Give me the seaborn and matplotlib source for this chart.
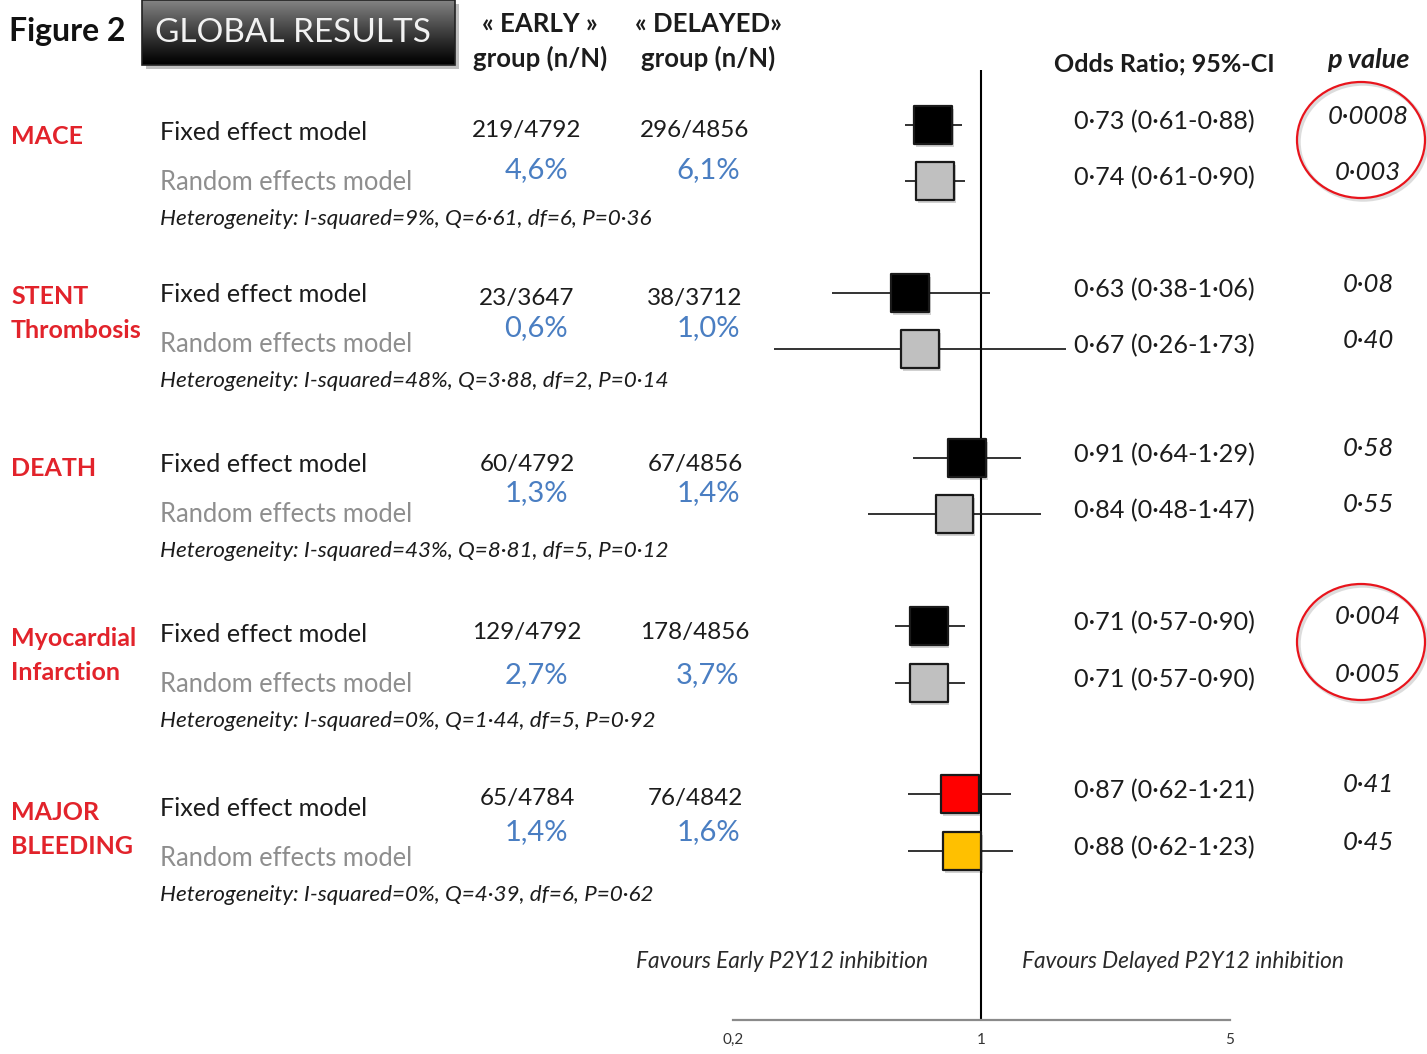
import numpy as np
import pandas as pd
import matplotlib
matplotlib.use("Agg")
import matplotlib.pyplot as plt
from matplotlib.patches import Ellipse, Rectangle
import seaborn as sns

# ---------------- data ----------------
outcome_lines = [["MACE"], ["STENT", "Thrombosis"], ["DEATH"],
                 ["Myocardial", "Infarction"], ["MAJOR", "BLEEDING"]]
early_counts = ["219/4792", "23/3647", "60/4792", "129/4792", "65/4784"]
delayed_counts = ["296/4856", "38/3712", "67/4856", "178/4856", "76/4842"]
early_pct = ["4,6%", "0,6%", "1,3%", "2,7%", "1,4%"]
delayed_pct = ["6,1%", "1,0%", "1,4%", "3,7%", "1,6%"]
heterogeneity = [
    "I-squared=9%, Q=6·61, df=6, P=0·36",
    "I-squared=48%, Q=3·88, df=2, P=0·14",
    "I-squared=43%, Q=8·81, df=5, P=0·12",
    "I-squared=0%, Q=1·44, df=5, P=0·92",
    "I-squared=0%, Q=4·39, df=6, P=0·62",
]
fixed_or = [0.73, 0.63, 0.91, 0.71, 0.87]
fixed_lo = [0.61, 0.38, 0.64, 0.57, 0.62]
fixed_hi = [0.88, 1.06, 1.29, 0.90, 1.21]
random_or = [0.74, 0.67, 0.84, 0.71, 0.88]
random_lo = [0.61, 0.26, 0.48, 0.57, 0.62]
random_hi = [0.90, 1.73, 1.47, 0.90, 1.23]
fixed_p = ["0·0008", "0·08", "0·58", "0·004", "0·41"]
random_p = ["0·003", "0·40", "0·55", "0·005", "0·45"]
x_ticks = [0.2, 1, 5]
x_tick_labels = ["0,2", "1", "5"]

# ---------------- layout (pixel rows) ----------------
W, H = 1427, 1054
fixed_row = [125, 293, 458, 626, 794]
random_row = [181, 349, 514, 683, 851]
label_y = [136, 297, 468, 638, 812]
model_y = [132, 294, 464, 634, 808]
count_y = [130, 298, 464, 632, 798]
pct_y = [170, 328, 493, 675, 832]

sns.set_theme(style="white")
plt.rcParams["font.family"] = ["Lato", "DejaVu Sans"]

fig = plt.figure(figsize=(W / 100, H / 100), dpi=100)
bg = fig.add_axes([0, 0, 1, 1])
bg.set_xlim(0, W)
bg.set_ylim(H, 0)
bg.axis("off")

DARK = "#1c1c1c"
GREY_TXT = "#8e8e8e"
BLUE = "#4a7ec2"
RED = "#e2232b"

# title block
bg.text(9, 31, "Figure 2", fontsize=23, fontweight="bold", color="#111111",
        va="center", ha="left")
grad = np.linspace(0.55, 0.0, 256).reshape(-1, 1) ** 1.1
bg.add_patch(Rectangle((146, 4), 313, 65, facecolor="#000000", alpha=0.25,
                       edgecolor="none", zorder=1))
bg.imshow(grad, cmap="gray", vmin=0, vmax=1, extent=[142, 455, 65, 0],
          aspect="auto", zorder=2)
bg.add_patch(Rectangle((142, 0), 313, 65, facecolor="none",
                       edgecolor="#222222", lw=1.2, zorder=3))
bg.text(293, 33, "GLOBAL RESULTS", fontsize=24, color="#f2f2f2",
        va="center", ha="center", zorder=4)

# column headers
HDR = 18.5
bg.text(540, 24, "« EARLY »", fontsize=HDR, fontweight="bold", color=DARK,
        ha="center", va="center")
bg.text(540, 58, "group (n/N)", fontsize=HDR, fontweight="bold", color=DARK,
        ha="center", va="center")
bg.text(708, 24, "« DELAYED»", fontsize=HDR, fontweight="bold", color=DARK,
        ha="center", va="center")
bg.text(708, 58, "group (n/N)", fontsize=HDR, fontweight="bold", color=DARK,
        ha="center", va="center")
bg.text(1164, 64, "Odds Ratio; 95%-CI", fontsize=18, fontweight="bold",
        color=DARK, ha="center", va="center")
bg.text(1368, 60, "p value", fontsize=19.5, fontweight="bold", style="italic",
        color=DARK, ha="center", va="center")

for i in range(5):
    for k, line in enumerate(outcome_lines[i]):
        bg.text(11, label_y[i] + 34 * k, line, fontsize=18, fontweight="bold",
                color=RED, ha="left", va="center")
    bg.text(160, model_y[i], "Fixed effect model", fontsize=18.2, color=DARK,
            ha="left", va="center")
    bg.text(160, model_y[i] + 50, "Random effects model", fontsize=18.4,
            color=GREY_TXT, ha="left", va="center")
    bg.text(160, model_y[i] + 87, "Heterogeneity: " + heterogeneity[i],
            fontsize=16.2, style="italic", color=DARK, ha="left", va="center")
    bg.text(527, count_y[i], early_counts[i], fontsize=17.5, color=DARK,
            ha="center", va="center")
    bg.text(695, count_y[i], delayed_counts[i], fontsize=17.5, color=DARK,
            ha="center", va="center")
    bg.text(536, pct_y[i], early_pct[i], fontsize=21, color=BLUE,
            ha="center", va="center")
    bg.text(708, pct_y[i], delayed_pct[i], fontsize=21, color=BLUE,
            ha="center", va="center")
    ci_f = f"{fixed_or[i]:.2f} ({fixed_lo[i]:.2f}-{fixed_hi[i]:.2f})".replace(".", "·")
    ci_r = f"{random_or[i]:.2f} ({random_lo[i]:.2f}-{random_hi[i]:.2f})".replace(".", "·")
    bg.text(1164, fixed_row[i] - 3, ci_f, fontsize=18.2, color=DARK,
            ha="center", va="center")
    bg.text(1164, random_row[i] - 3, ci_r, fontsize=18.2, color=DARK,
            ha="center", va="center")
    bg.text(1368, fixed_row[i] - 9, fixed_p[i], fontsize=18.5, style="italic",
            color=DARK, ha="center", va="center")
    bg.text(1368, random_row[i] - 9, random_p[i], fontsize=18.5, style="italic",
            color=DARK, ha="center", va="center")

# highlighted p values
for cy in (140, 642):
    bg.add_patch(Ellipse((1363, cy + 2), 128, 116, facecolor="none",
                         edgecolor="#bbbbbb", lw=2.5, alpha=0.5))
    bg.add_patch(Ellipse((1361, cy), 128, 116, facecolor="none",
                         edgecolor="#e8141c", lw=1.6))

bg.text(782, 961, "Favours Early P2Y12 inhibition", fontsize=16.3,
        style="italic", color="#2a2a2a", ha="center", va="center")
bg.text(1183, 961, "Favours Delayed P2Y12 inhibition", fontsize=16.3,
        style="italic", color="#2a2a2a", ha="center", va="center")

# ---------------- forest panel ----------------
x0, x1, ytop, ybot = 733, 1230, 70, 1020
ax = fig.add_axes([x0 / W, (H - ybot) / H, (x1 - x0) / W, (ybot - ytop) / H])
ax.patch.set_alpha(0)
ax.set_xscale("log")
ax.set_xlim(0.2, 5)
ax.set_ylim(ybot, ytop)

df = pd.DataFrame({
    "or": fixed_or + random_or,
    "lo": fixed_lo + random_lo,
    "hi": fixed_hi + random_hi,
    "row": fixed_row + random_row,
    "kind": [f"f{i}" for i in range(5)] + [f"r{i}" for i in range(5)],
})
palette = {f"f{i}": "#000000" for i in range(4)}
palette.update({f"r{i}": "#c0c0c0" for i in range(4)})
palette["f4"] = "#ff0000"
palette["r4"] = "#ffc000"

ax.hlines(df["row"], df["lo"], df["hi"], color="#111111", lw=1.2, zorder=2)
ax.axvline(1, color="#000000", lw=1.5, zorder=1)
# soft drop shadow under the boxes
ax.scatter(df["or"] * 1.012, df["row"] + 3, marker="s", s=760,
           color="#000000", alpha=0.18, lw=0, zorder=2.5)
sns.scatterplot(data=df, x="or", y="row", hue="kind", palette=palette,
                marker="s", s=740, edgecolor="#1a1a1a", linewidth=1.6,
                legend=False, ax=ax, zorder=3)

sns.despine(ax=ax, left=True, top=True, right=True)
ax.spines["bottom"].set_color("#8a8a8a")
ax.spines["bottom"].set_linewidth(1.6)
ax.set_yticks([])
ax.set_xticks(x_ticks)
ax.set_xticklabels(x_tick_labels)
ax.minorticks_off()
ax.tick_params(axis="x", direction="inout", length=7, width=1.3,
               color="#8a8a8a", labelsize=11, labelcolor="#333333", pad=6)
ax.set_xlabel("")
ax.set_ylabel("")

fig.savefig("out.png", dpi=100)
